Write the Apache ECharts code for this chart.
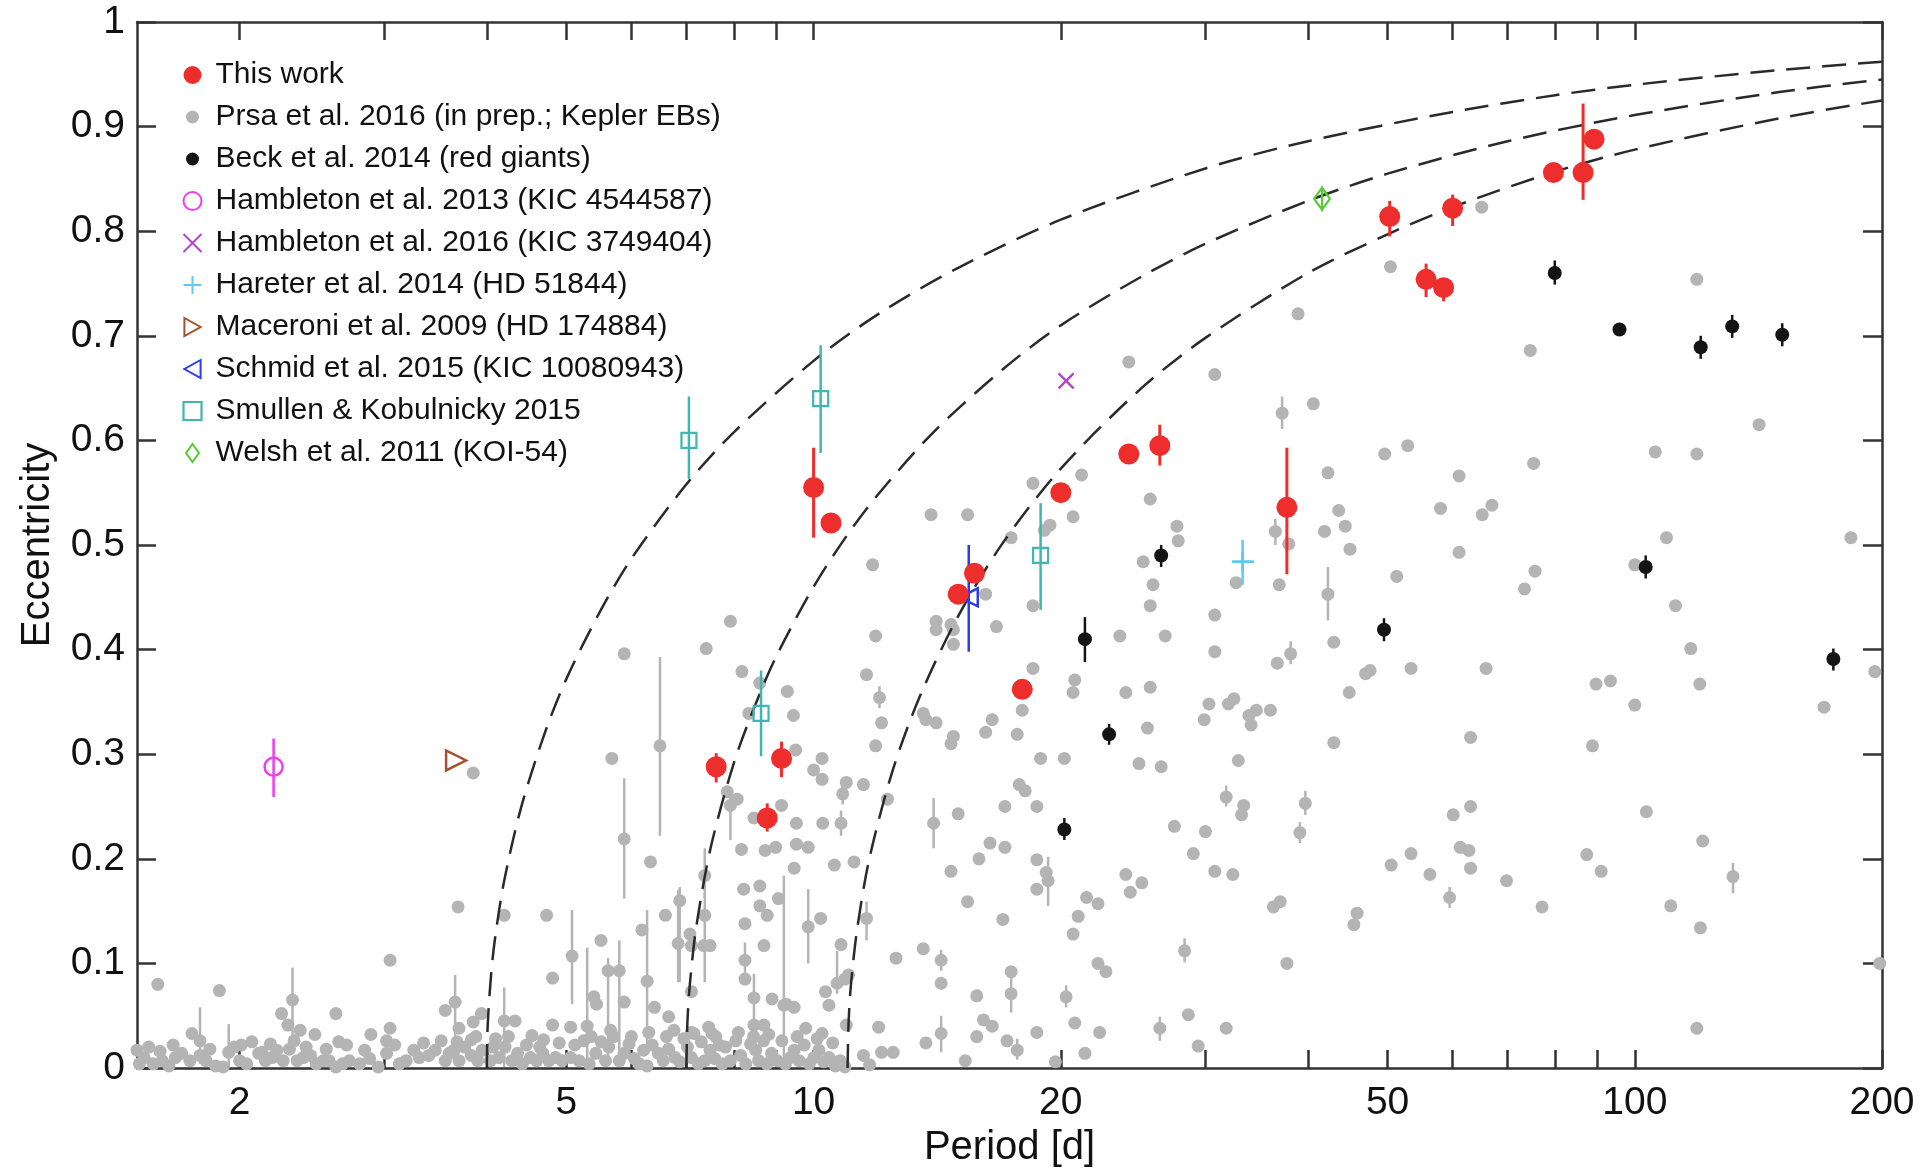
<!DOCTYPE html>
<html><head><meta charset="utf-8">
<script src="https://cdn.jsdelivr.net/npm/echarts@6/dist/echarts.min.js"></script>
<style>html,body{margin:0;padding:0;background:#fff}#c{width:1924px;height:1168px}</style>
</head><body><div id="c"></div>
<script>
// ---------- axis ticks ----------
const xTickValues = [2,3,4,5,6,7,8,9,10,20,30,40,50,60,70,80,90,100,200];
const xLabelValues = [2,5,10,20,50,100,200];

// ---------- series (Period [d], eccentricity, err low, err high) ----------
const thisWork = [
  [10.0,0.555,0.507,0.593],[10.5,0.521,0.521,0.521],[15.0,0.453,0.453,0.453],[15.7,0.473,0.473,0.473],
  [17.95,0.362,0.362,0.362],[20.0,0.550,0.550,0.550],[24.2,0.587,0.587,0.587],[26.4,0.595,0.576,0.615],
  [37.7,0.536,0.472,0.593],[7.61,0.288,0.273,0.301],[9.14,0.296,0.278,0.312],[8.78,0.239,0.226,0.253],
  [50.3,0.814,0.795,0.829],[55.7,0.754,0.737,0.769],[58.5,0.746,0.733,0.754],[60.0,0.822,0.805,0.835],
  [79.6,0.856,0.856,0.856],[86.5,0.856,0.830,0.922],[89.2,0.888,0.888,0.888]
];
const beck = [
  [79.9,0.760,0.749,0.772],[95.8,0.706,0.700,0.712],[120.3,0.689,0.678,0.700],[131.4,0.709,0.698,0.720],
  [151.2,0.701,0.690,0.712],[26.5,0.490,0.479,0.500],[21.4,0.410,0.388,0.431],[22.9,0.319,0.309,0.329],
  [49.5,0.419,0.408,0.430],[103.1,0.479,0.468,0.490],[174.5,0.391,0.380,0.401],[20.2,0.228,0.218,0.239]
];
const hambleton13 = [[2.2,0.288,0.259,0.315]];
const hambleton16 = [[20.3,0.657]];
const hareter = [[33.3,0.484,0.462,0.505,32.3,34.4]];
const maceroni = [[3.67,0.294]];
const schmid = [[15.45,0.450,0.398,0.500]];
const smullen = [[7.05,0.600,0.563,0.642],[10.2,0.640,0.588,0.691],[18.9,0.490,0.438,0.540],[8.63,0.339,0.298,0.380]];
const welsh = [[41.6,0.831,0.819,0.843]];

// Prsa et al. gray points without visible error bars
const prsa = [
  [141.7,0.615],[105.9,0.589],[119,0.587],[75.3,0.578],[61.1,0.566],[67,0.538],[65.2,0.529],[109.3,0.507],
  [183.3,0.507],[61.1,0.493],[100,0.481],[75.6,0.475],[73.4,0.458],[112.1,0.442],[117,0.401],[65.9,0.382],
  [89.7,0.367],[93.4,0.370],[120,0.367],[100,0.347],[170,0.345],[196,0.379],[63.1,0.316],[88.8,0.308],
  [50.4,0.766],[65.1,0.823],[119,0.754],[38.9,0.721],[74.6,0.686],[24.2,0.675],[30.8,0.663],[40.6,0.635],
  [18.5,0.559],[21.2,0.567],[17.4,0.507],[19.4,0.519],[19.1,0.514],[20.7,0.527],[25.7,0.544],[27.7,0.518],
  [27.8,0.504],[25.2,0.484],[25.9,0.462],[25.7,0.442],[18.5,0.442],[23.6,0.413],[26.8,0.413],[30.8,0.433],
  [30.8,0.398],[32.7,0.464],[36.9,0.462],[37.9,0.501],[42.3,0.569],[49.6,0.587],[52.9,0.595],[43.6,0.533],
  [41.9,0.513],[44.4,0.518],[45,0.496],[51.3,0.470],[58,0.535],[43,0.407],[36.7,0.387],[47.6,0.380],
  [47.0,0.377],[53.4,0.382],[44.9,0.359],[18.5,0.382],[20.8,0.371],[20.7,0.359],[24.0,0.359],[25.7,0.364],
  [17.95,0.342],[17.7,0.319],[25.5,0.325],[30.3,0.348],[29.9,0.333],[32,0.348],[32.5,0.353],[33.9,0.337],
  [34.6,0.342],[34.1,0.328],[36,0.342],[18.9,0.296],[20.2,0.296],[24.9,0.291],[26.5,0.288],[32.9,0.294],
  [43,0.311],
  [13.9,0.529],[15.4,0.529],[11.8,0.481],[16.2,0.453],[7.92,0.427],[5.88,0.396],[7.4,0.401],[11.9,0.413],
  [14.1,0.427],[14.7,0.424],[14.1,0.419],[14.8,0.419],[14.8,0.405],[16.7,0.422],[8.18,0.379],[9.29,0.360],
  [9.45,0.337],[8.34,0.339],[8.6,0.368],[11.6,0.376],[12.1,0.330],[13.6,0.339],[13.7,0.333],[14.1,0.330],
  [14.8,0.317],[14.7,0.310],[16.5,0.333],[16.2,0.321],
  [5.68,0.296],[6.33,0.197],[9.51,0.304],[10.24,0.296],[10.0,0.285],[10.24,0.276],[10.96,0.273],[11.5,0.271],
  [11.9,0.308],[12.3,0.257],[7.85,0.264],[8.07,0.257],[8.46,0.239],[9.14,0.251],[9.53,0.234],[10.26,0.234],
  [8.17,0.209],[8.73,0.208],[8.99,0.211],[9.53,0.214],[9.85,0.211],[9.47,0.191],[10.6,0.194],[11.2,0.197],
  [8.22,0.171],[8.6,0.174],[9.06,0.162],[6.6,0.146],[6.18,0.132],[5.51,0.122],[7.07,0.128],[7.1,0.117],
  [7.35,0.117],[7.48,0.117],[8.25,0.138],[8.6,0.155],[8.78,0.146],[8.7,0.117],[8.25,0.085],[10.2,0.143],
  [10.8,0.118],[12.6,0.105],[13.6,0.114],[14.3,0.081],[14.7,0.188],[15.4,0.159],[15.9,0.200],[16.4,0.215],
  [15.0,0.243],[15.8,0.069],[16.1,0.046],[16.5,0.040],[15.8,0.030],[15.3,0.007],[13.7,0.024],[12.0,0.039],
  [12.1,0.015],[12.5,0.015],[11.5,0.012],[11.7,0.003],[5.06,0.039],[5.4,0.068],[5.44,0.061],[5.88,0.063],
  [6.4,0.058],[6.66,0.049],[6.76,0.036],[7.1,0.073],[7.15,0.033],[7.45,0.039],[7.52,0.033],[8.9,0.066],
  [8.46,0.041],[8.7,0.041],[9.26,0.061],[9.47,0.058],[9.78,0.038],[10.24,0.033],[10.34,0.073],[10.44,0.060],
  [10.92,0.085],[11.03,0.089],[10.96,0.041],[7.1,0.034],[7.6,0.030],
  [17.8,0.271],[18.1,0.265],[17.1,0.250],[18.7,0.250],[17.1,0.211],[18.7,0.199],[19.2,0.187],[18.7,0.171],
  [17.0,0.142],[21.5,0.163],[22.2,0.157],[21.0,0.145],[20.7,0.128],[24.0,0.185],[24.3,0.168],[25.1,0.177],
  [27.5,0.231],[30.0,0.226],[29.0,0.205],[30.8,0.188],[32.4,0.185],[33.4,0.251],[33.2,0.242],[36.3,0.154],
  [37,0.159],[37.7,0.100],[45.9,0.148],[45.5,0.137],[50.5,0.194],[53.4,0.205],[56.3,0.185],[17.4,0.092],
  [22.2,0.100],[22.7,0.092],[20.8,0.043],[18.7,0.034],[22.3,0.034],[17.2,0.026],[21.4,0.014],[19.7,0.006],
  [28.6,0.051],[29.4,0.021],[31.8,0.038],
  [60.1,0.242],[63.1,0.250],[103.3,0.245],[121,0.217],[61.3,0.211],[62.8,0.208],[63.1,0.191],[69.8,0.179],
  [77.1,0.154],[87.4,0.204],[91,0.188],[110.6,0.155],[120.2,0.134],[119,0.038],[198.7,0.100],
  [1.59,0.080],[1.89,0.074],[2.25,0.052],[2.29,0.041],[2.37,0.036],[2.47,0.032],[2.62,0.052],[2.64,0.025],
  [1.75,0.033],[2.01,0.022],[1.6,0.016],[2.89,0.032],[3.05,0.038],[3.02,0.026],[3.05,0.103],[3.56,0.055],
  [3.7,0.038],[3.85,0.044],[3.94,0.052],[3.83,0.027],[4.33,0.045],[4.54,0.031],[4.69,0.027],[4.81,0.086],
  [4.81,0.041],[3.69,0.154],[4.2,0.146],[4.73,0.146],[3.85,0.282],[2.13,0.015],
  [1.50,0.017],[1.51,0.004],[1.53,0.010],[1.57,0.004],[1.61,0.007],[1.64,0.002],[1.67,0.010],[1.70,0.014],
  [1.74,0.007],[1.79,0.012],[1.82,0.007],[1.87,0.002],[1.91,0.001],[2.00,0.007],[2.04,0.004],[2.11,0.014],
  [2.15,0.007],[2.19,0.010],[2.22,0.017],[2.26,0.007],[2.30,0.018],[2.35,0.007],[2.39,0.010],[2.44,0.012],
  [2.48,0.004],[2.53,0.007],[2.57,0.007],[2.62,0.001],[2.67,0.004],[2.72,0.007],[2.80,0.004],[2.88,0.009],
  [2.95,0.001],[3.02,0.014],[3.13,0.004],[3.19,0.007],[3.26,0.017],[3.31,0.010],[3.40,0.012],[3.46,0.017],
  [3.56,0.007],[3.60,0.014],[3.65,0.017],[3.70,0.007],[3.76,0.020],[3.83,0.012],[3.90,0.007],[3.95,0.017],
  [4.04,0.007],[4.07,0.020],[4.14,0.010],[4.21,0.020],[4.29,0.007],[4.36,0.014],[4.42,0.004],[4.52,0.010],
  [4.60,0.007],[4.68,0.014],[4.76,0.007],[4.85,0.010],
  [4.94,0.007],[5.06,0.010],[5.18,0.007],[5.25,0.026],[5.33,0.004],[5.43,0.014],[5.51,0.025],[5.58,0.007],
  [5.63,0.020],[5.71,0.030],[5.80,0.007],[5.88,0.014],[5.96,0.023],[6.05,0.009],[6.13,0.004],[6.21,0.017],
  [6.27,0.002],[6.36,0.022],[6.47,0.014],[6.56,0.007],[6.66,0.018],[6.78,0.010],[6.87,0.006],[7.02,0.020],
  [7.10,0.010],[7.24,0.004],[7.37,0.007],[7.48,0.017],[7.58,0.009],[7.74,0.004],[7.81,0.020],[7.92,0.007],
  [8.04,0.026],[8.15,0.012],[8.27,0.004],[8.38,0.023],[8.50,0.017],[8.57,0.007],[8.69,0.026],[8.77,0.004],
  [8.89,0.014],[9.03,0.007],[9.24,0.004],[9.37,0.010],[9.47,0.017],[9.60,0.007],[9.74,0.022],[9.88,0.004],
  [10.01,0.010],[10.15,0.017],[10.29,0.006],[10.44,0.010],[10.63,0.002],[10.77,0.007],[10.92,0.001],
  [1.55,0.020],[1.66,0.022],[1.84,0.018],[1.97,0.020],[2.07,0.025],[2.18,0.023],[2.33,0.026],[2.41,0.020],
  [2.55,0.018],[2.70,0.022],[2.84,0.017],[3.09,0.022],[3.35,0.024],[3.52,0.026],[3.68,0.025],[3.88,0.030],
  [4.10,0.028],[4.25,0.030],[4.47,0.022],[4.64,0.020],[4.90,0.024],[5.12,0.022],[5.36,0.030],[5.66,0.036],
  [6.00,0.030],[6.30,0.034],[6.62,0.030],[6.95,0.028],[7.30,0.025],[7.68,0.022],[8.10,0.034],[8.45,0.030],
  [8.82,0.032],[9.15,0.026],[9.55,0.030],[10.10,0.028],[10.55,0.024]
];
// Prsa et al. gray points with error bars: [P, e, low, high]
const prsaErr = [
  [37.2,0.626,0.611,0.642],[36.5,0.513,0.500,0.525],[38.1,0.396,0.386,0.408],[42.3,0.453,0.428,0.479],
  [12.03,0.354,0.344,0.365],
  [6.50,0.308,0.222,0.393],[5.88,0.219,0.162,0.277],[10.85,0.262,0.252,0.273],[7.92,0.251,0.218,0.267],
  [10.8,0.234,0.222,0.246],[9.2,0.060,0.0,0.184],[7.37,0.184,0.163,0.210],[6.87,0.160,0.082,0.173],
  [6.27,0.083,0.015,0.151],[5.08,0.107,0.061,0.151],[7.37,0.146,0.082,0.167],[6.84,0.119,0.082,0.170],
  [8.25,0.103,0.083,0.120],[9.85,0.135,0.100,0.171],[11.6,0.143,0.122,0.159],[14.3,0.103,0.093,0.113],
  [14.0,0.234,0.210,0.258],[14.3,0.033,0.015,0.050],[5.62,0.093,0.007,0.105],[5.8,0.093,0.017,0.122],
  [5.3,0.040,0.0,0.115],[8.46,0.067,0.025,0.090],[10.68,0.081,0.071,0.112],
  [19.3,0.179,0.155,0.202],[31.8,0.259,0.250,0.270],[39.7,0.253,0.242,0.265],[39.1,0.225,0.215,0.235],
  [17.4,0.071,0.053,0.090],[20.3,0.068,0.058,0.079],[28.3,0.112,0.101,0.124],[26.4,0.038,0.026,0.049],
  [17.7,0.017,0.008,0.028],[131.7,0.183,0.167,0.196],[59.5,0.163,0.153,0.173],
  [2.32,0.065,0.026,0.096],[1.79,0.026,0.004,0.058],[1.94,0.015,0.001,0.042],[3.66,0.063,0.007,0.089],
  [4.2,0.045,0.001,0.077]
];

// dashed constant-angular-momentum curves
const curveA = [[4,0],[4.01,0.041],[4.05,0.091],[4.1,0.128],[4.2,0.179],[4.4,0.248],[4.7,0.319],[5,0.372],[5.5,0.437],[6,0.487],[7,0.558],[8,0.608],[10,0.676],[12,0.721],[15,0.765],[20,0.811],[30,0.860],[40,0.886],[60,0.914],[80,0.930],[100,0.940],[150,0.954],[200,0.962]];
const curveB = [[7,0],[7.02,0.044],[7.07,0.081],[7.2,0.136],[7.5,0.212],[8,0.292],[8.5,0.348],[9,0.393],[10,0.460],[11,0.510],[12,0.549],[14,0.608],[17,0.668],[20,0.710],[25,0.756],[30,0.788],[40,0.829],[50,0.855],[70,0.886],[100,0.911],[150,0.933],[200,0.945]];
const curveC = [[11,0],[11.03,0.043],[11.1,0.078],[11.3,0.133],[11.7,0.201],[12.5,0.286],[13.5,0.357],[15,0.432],[17,0.502],[20,0.573],[25,0.649],[30,0.698],[40,0.760],[50,0.797],[60,0.823],[80,0.857],[100,0.878],[150,0.908],[200,0.925]];

// ---------- build chart ----------
const FONT = "'Liberation Sans', Arial, Helvetica, sans-serif";
const AX = '#333';
const pts = a => a.map(d => [d[0], d[1]]);
const withBars = a => a.filter(d => d.length >= 4 && d[2] !== d[3]);
const NONE = 'rgba(255,255,255,0)';

function errSeries(id, data, color, width, z) {
  return {
    type: 'custom', name: id, z: z, silent: true, data: data,
    encode: { x: 0, y: 1 },
    renderItem: function (params, api) {
      const x = api.value(0), lo = api.value(2), hi = api.value(3);
      const a = api.coord([x, lo]), b = api.coord([x, hi]);
      const children = [{ type: 'line', shape: { x1: a[0], y1: a[1], x2: b[0], y2: b[1] }, style: { stroke: color, lineWidth: width } }];
      const xl = api.value(4), xh = api.value(5);
      if (xl && xh && !isNaN(xl)) {
        const y = api.value(1);
        const c = api.coord([xl, y]), d = api.coord([xh, y]);
        children.push({ type: 'line', shape: { x1: c[0], y1: c[1], x2: d[0], y2: d[1] }, style: { stroke: color, lineWidth: width } });
      }
      return { type: 'group', children: children };
    }
  };
}
function curve(name, data) {
  return { type: 'line', name: name, data: data, z: 3, symbol: 'none', smooth: 0.3, silent: true,
    lineStyle: { color: '#2a2a2a', width: 2.5, type: [24, 12] } };
}

const N = {
  tw: 'This work',
  prsa: 'Prsa et al. 2016 (in prep.; Kepler EBs)',
  beck: 'Beck et al. 2014 (red giants)',
  h13: 'Hambleton et al. 2013 (KIC 4544587)',
  h16: 'Hambleton et al. 2016 (KIC 3749404)',
  har: 'Hareter et al. 2014 (HD 51844)',
  mac: 'Maceroni et al. 2009 (HD 174884)',
  sch: 'Schmid et al. 2015 (KIC 10080943)',
  smu: 'Smullen & Kobulnicky 2015',
  wel: 'Welsh et al. 2011 (KOI-54)'
};
const C = { red: '#ee2d2d', gray: '#b4b4b4', black: '#141414', mag: '#f03cf0', pur: '#b048c8',
  cyan: '#5ccaf2', brown: '#a4522c', blue: '#2b3ee6', teal: '#40b6b0', green: '#55cc33' };

const xAxisBase = {
  type: 'log', logBase: 10, min: 1.5, max: 200, gridIndex: 0,
  axisLine: { show: true, onZero: false, lineStyle: { color: AX, width: 2.5 } },
  axisTick: { show: true, inside: true, length: 18, customValues: xTickValues, lineStyle: { color: AX, width: 2.5 } },
  splitLine: { show: false }, minorTick: { show: false }
};
const yAxisBase = {
  type: 'value', min: 0, max: 1, interval: 0.1, gridIndex: 0,
  axisLine: { show: true, onZero: false, lineStyle: { color: AX, width: 2.5 } },
  axisTick: { show: true, inside: true, length: 19, lineStyle: { color: AX, width: 2.5 } },
  splitLine: { show: false }
};
function sc(name, z, symbol, size, style, data, rot) {
  const s = { type: 'scatter', name: name, z: z, symbol: symbol, symbolSize: size,
    itemStyle: Object.assign({ opacity: 1 }, style), data: data, emphasis: { disabled: true } };
  if (rot) s.symbolRotate = rot;
  return s;
}

const option = {
  animation: false,
  backgroundColor: '#fff',
  textStyle: { fontFamily: FONT },
  grid: { left: 137, right: 42, top: 22, bottom: 100, outerBoundsMode: 'none' },
  xAxis: [
    Object.assign({}, xAxisBase, {
      position: 'bottom', name: 'Period [d]', nameLocation: 'middle', nameGap: 60,
      nameTextStyle: { fontSize: 40, color: '#111', fontFamily: FONT },
      axisLabel: { show: true, customValues: xLabelValues, fontSize: 39, color: '#111', margin: 16, fontFamily: FONT,
        formatter: v => String(Math.round(v * 1000) / 1000) }
    }),
    Object.assign({}, xAxisBase, { position: 'top', axisLabel: { show: false } })
  ],
  yAxis: [
    Object.assign({}, yAxisBase, {
      position: 'left', name: 'Eccentricity', nameLocation: 'middle', nameGap: 79,
      nameTextStyle: { fontSize: 40, color: '#111', fontFamily: FONT },
      axisLabel: { fontSize: 39, color: '#111', margin: 12, fontFamily: FONT }
    }),
    Object.assign({}, yAxisBase, { position: 'right', axisLabel: { show: false } })
  ],
  legend: {
    orient: 'vertical', left: 176, top: 55, itemWidth: 18, itemHeight: 18, itemGap: 12,
    selectedMode: false, padding: 5,
    textStyle: { fontSize: 30, color: '#111', fontFamily: FONT, padding: [0, 0, 0, 9] },
    data: [
      { name: N.tw },
      { name: N.prsa, itemStyle: { borderColor: '#fff', borderWidth: 5 } },
      { name: N.beck, itemStyle: { borderColor: '#fff', borderWidth: 5 } },
      { name: N.h13 }, { name: N.h16 }, { name: N.har },
      { name: N.mac, icon: 'path://M1,0L10,5L1,10Z' },
      { name: N.sch, icon: 'path://M9,0L0,5L9,10Z' },
      { name: N.smu, icon: 'rect', itemStyle: { borderWidth: 2.2 } },
      { name: N.wel, icon: 'path://M5,0L10,7L5,14L0,7Z' }
    ]
  },
  series: [
    errSeries('err-prsa', withBars(prsaErr), C.gray, 2.5, 1),
    sc(N.prsa, 2, 'circle', 13, { color: C.gray }, prsa.concat(pts(prsaErr))),
    curve('curve-4d', curveA), curve('curve-7d', curveB), curve('curve-11d', curveC),
    errSeries('err-beck', withBars(beck), C.black, 2.5, 4),
    sc(N.beck, 4, 'circle', 14, { color: C.black }, pts(beck)),
    errSeries('err-h13', withBars(hambleton13), C.mag, 2.5, 5),
    sc(N.h13, 5, 'circle', 18, { color: NONE, borderColor: C.mag, borderWidth: 2.5 }, pts(hambleton13)),
    sc(N.h16, 5, 'path://M0,0L10,10M10,0L0,10', 15, { color: NONE, borderColor: C.pur, borderWidth: 2.5 }, pts(hambleton16)),
    errSeries('err-har', hareter, C.cyan, 2.5, 5),
    sc(N.har, 5, 'path://M5,0L5,10M0,5L10,5', 20, { color: NONE, borderColor: C.cyan, borderWidth: 2.5 }, pts(hareter)),
    sc(N.mac, 5, 'triangle', 20, { color: NONE, borderColor: C.brown, borderWidth: 2.5 }, pts(maceroni), -90),
    errSeries('err-sch', withBars(schmid), C.blue, 2.5, 5),
    sc(N.sch, 5, 'triangle', 18, { color: NONE, borderColor: C.blue, borderWidth: 2.5 }, pts(schmid), 90),
    errSeries('err-smu', withBars(smullen), C.teal, 2.5, 5),
    sc(N.smu, 5, 'rect', 15, { color: NONE, borderColor: C.teal, borderWidth: 2.2 }, pts(smullen)),
    errSeries('err-wel', withBars(welsh), C.green, 2, 5),
    sc(N.wel, 5, 'diamond', [16, 22], { color: NONE, borderColor: C.green, borderWidth: 2.2 }, pts(welsh)),
    errSeries('err-tw', withBars(thisWork), C.red, 3, 6),
    sc(N.tw, 6, 'circle', 21, { color: C.red }, pts(thisWork))
  ]
};
const chart = echarts.init(document.getElementById('c'), null, { renderer: 'canvas' });
chart.setOption(option);
</script>
</body></html>
